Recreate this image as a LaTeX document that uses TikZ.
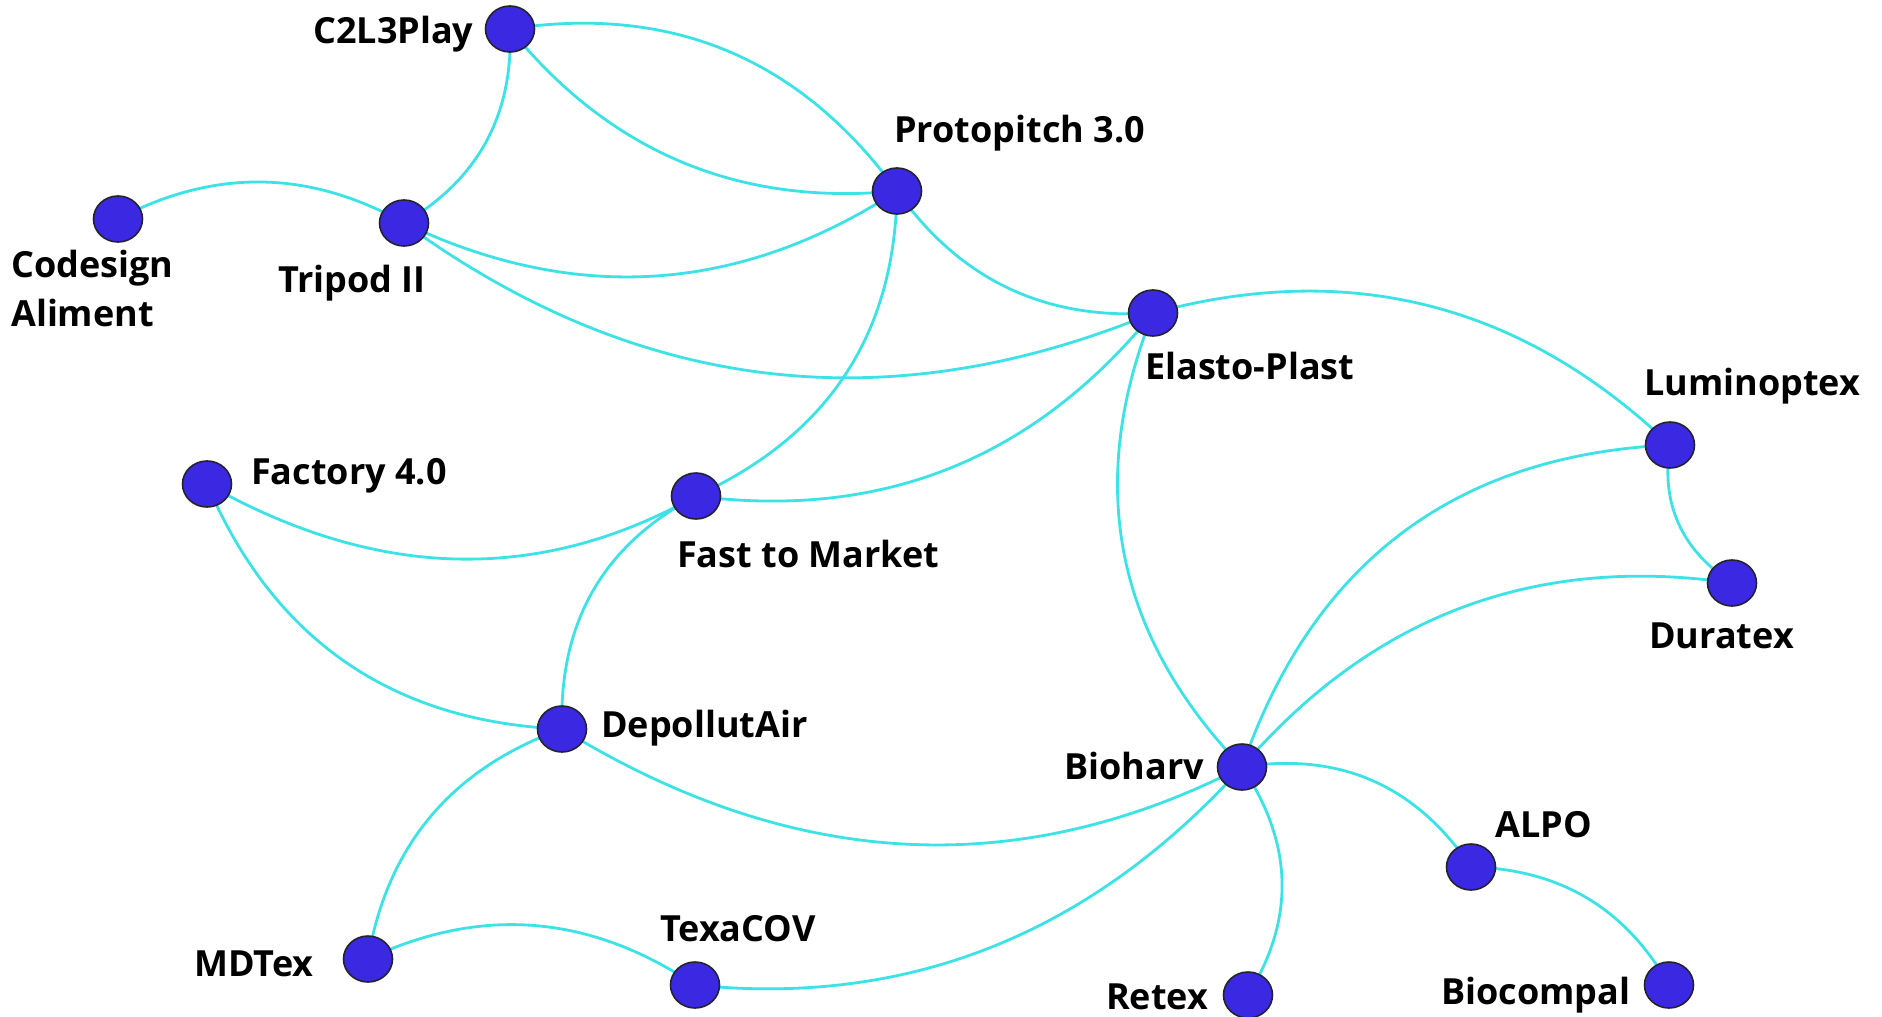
\documentclass[tikz,border=0pt]{standalone}
\usepackage{fontspec}
\setmainfont{Open Sans}
\usetikzlibrary{shapes.geometric,calc}
\pgfdeclarelayer{bg}
\pgfsetlayers{bg,main}
\definecolor{nodefill}{RGB}{58,40,226}
\definecolor{nodeline}{RGB}{35,35,45}
\definecolor{edgecol}{RGB}{60,226,230}
\newcommand\qedge[3]{\draw[edge] (#1.center) .. controls ($(#1.center)!0.6667!(#2)$) and ($(#3.center)!0.6667!(#2)$) .. (#3.center);}
\begin{document}
\begin{tikzpicture}[x=1pt,y=-1pt,
  vtx/.style={ellipse,draw=nodeline,line width=1.6pt,fill=nodefill,minimum width=49pt,minimum height=46pt,inner sep=0pt},
  lbl/.style={anchor=base west,inner sep=0pt,font=\fontsize{36}{49}\selectfont\bfseries,text=black},
  edge/.style={draw=edgecol,line width=2.8pt}]
\useasboundingbox (0,0) rectangle (1882,1017);
% nodes
\node[vtx] (c2) at (510,29) {};
\node[vtx] (pr) at (897,191) {};
\node[vtx] (co) at (118,219) {};
\node[vtx] (tr) at (404,223) {};
\node[vtx] (el) at (1153,313) {};
\node[vtx] (lu) at (1670,445) {};
\node[vtx] (du) at (1732,583) {};
\node[vtx] (fa) at (207,484) {};
\node[vtx] (fm) at (696,496) {};
\node[vtx] (de) at (562,729) {};
\node[vtx] (bi) at (1242,767) {};
\node[vtx] (al) at (1471,867) {};
\node[vtx] (md) at (368,959) {};
\node[vtx] (tx) at (695,985) {};
\node[vtx] (re) at (1248,995) {};
\node[vtx] (bc) at (1669,985) {};
% labels
\node[lbl] (lc2) at (313,43) {C2L3Play};
\node[lbl,align=left] (lco) at (11,326) {Codesign\\Aliment};
\node[lbl] (ltr) at (278,292) {Tripod II};
\node[lbl] (lpr) at (894,142) {Protopitch 3.0};
\node[lbl] (lel) at (1145,379) {Elasto-Plast};
\node[lbl] (llu) at (1644,395) {Luminoptex};
\node[lbl] (ldu) at (1649,648) {Duratex};
\node[lbl] (lfa) at (251,484) {Factory 4.0};
\node[lbl] (lfm) at (677,567) {Fast to Market};
\node[lbl] (lde) at (601,737) {DepollutAir};
\node[lbl] (lmd) at (194,976) {MDTex};
\node[lbl] (ltx) at (660,941) {TexaCOV};
\node[lbl] (lbi) at (1064,779) {Bioharv};
\node[lbl] (lal) at (1495,837) {ALPO};
\node[lbl] (lre) at (1106,1009) {Retex};
\node[lbl] (lbc) at (1441,1004) {Biocompal};
% edges
\begin{pgfonlayer}{bg}
\fill[white] (0,0) rectangle (1882,1017);
\qedge{c2}{752,-8}{pr}
\qedge{c2}{660,214}{pr}
\qedge{c2}{515,158}{tr}
\qedge{co}{262,143}{tr}
\qedge{tr}{660,345}{pr}
\qedge{tr}{754,478}{el}
\qedge{pr}{894,406}{fm}
\qedge{pr}{991,324}{el}
\qedge{el}{975,532}{fm}
\qedge{el}{1448,233}{lu}
\qedge{el}{1051,569}{bi}
\qedge{fa}{461,628}{fm}
\qedge{fm}{557,569}{de}
\qedge{fa}{307,718}{de}
\qedge{de}{397,788}{md}
\qedge{de}{905,940}{bi}
\qedge{md}{537,879}{tx}
\qedge{tx}{1015,1018}{bi}
\qedge{bi}{1348,460}{lu}
\qedge{bi}{1437,540}{du}
\qedge{lu}{1656,533}{du}
\qedge{bi}{1388,744}{al}
\qedge{al}{1604,870}{bc}
\qedge{bi}{1319,881}{re}
\end{pgfonlayer}
\end{tikzpicture}
\end{document}
